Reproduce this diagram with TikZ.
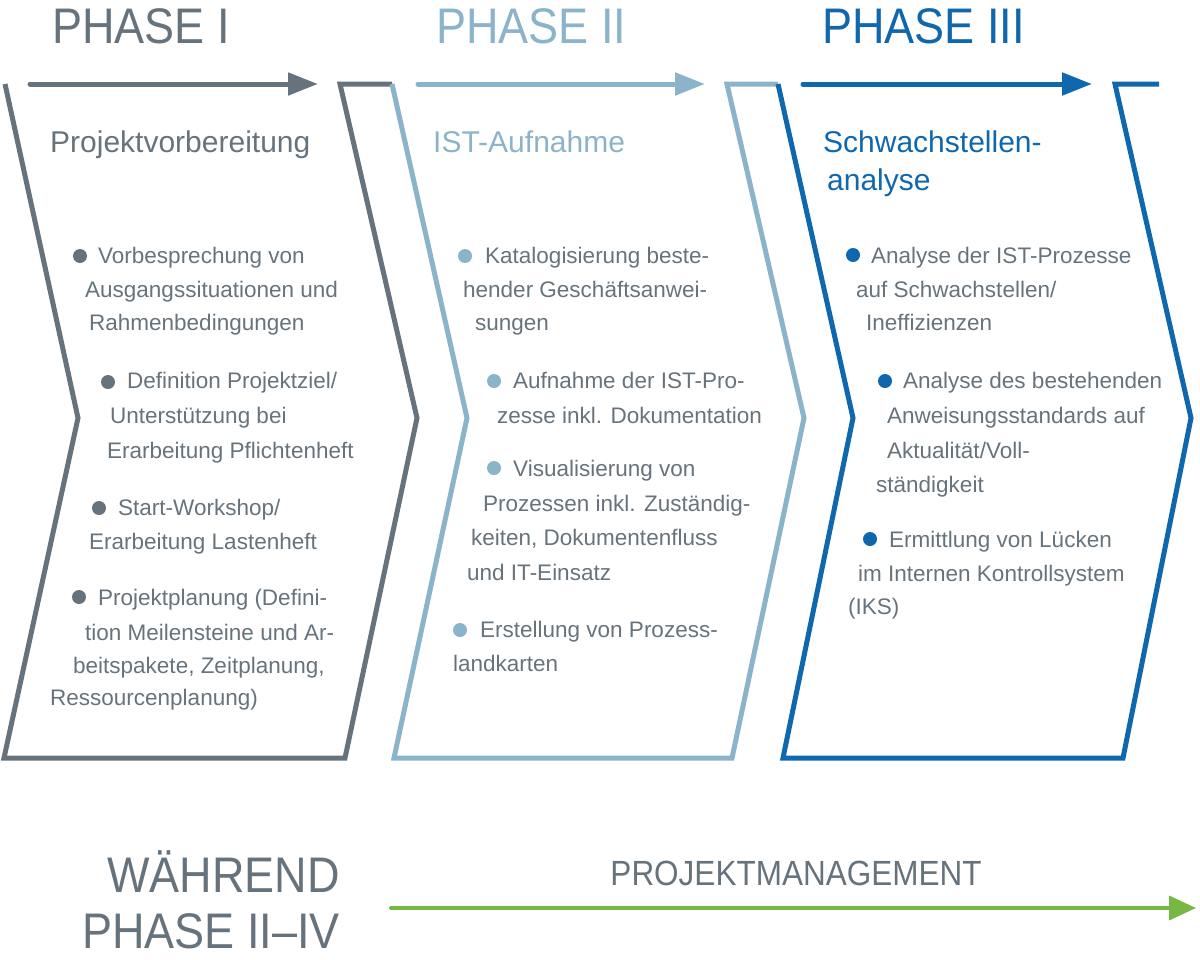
\documentclass[tikz,border=0pt]{standalone}
\usepackage{fontspec}
\setmainfont{Liberation Sans}
\newfontfamily\capsfont{Liberation Sans}[FakeStretch=0.9]
\usetikzlibrary{arrows.meta}

\definecolor{pgray}{HTML}{67737C}
\definecolor{plblue}{HTML}{8BB3C9}
\definecolor{pblue}{HTML}{0F67AE}
\definecolor{pgreen}{HTML}{76B843}

\begin{document}
\begin{tikzpicture}[
  x=1pt, y=-1pt,
  chev/.style={line width=5pt, line join=miter},
  flow/.style={line width=5pt, line cap=round, -{Triangle[length=30pt,width=22pt]}},
  txt/.style={anchor=base west, inner sep=0pt, text=pgray, font=\fontsize{22.5}{27}\selectfont},
  title/.style={anchor=base west, inner sep=0pt, font=\fontsize{30}{36}\selectfont},
  phase/.style={anchor=base west, inner sep=0pt, font=\capsfont\fontsize{50}{60}\selectfont},
  dot/.style={circle, inner sep=0pt, minimum size=14pt}
]
\useasboundingbox (0,0) rectangle (1200,959);

% chevrons
\foreach \c/\a/\n/\bl/\br/\t/\tr/\e in {pgray/5/78/4/345/417/340/392,
    plblue/392/467/394/732/804/727/778, pblue/778/853/783/1123/1191/1115/1159}
  \draw[chev, \c] (\e,84) -- (\tr,84) -- (\t,418) -- (\br,758) -- (\bl,758) -- (\n,418) -- (\a,84);

% phase arrows
\coordinate (a1s) at (30,84);  \coordinate (a1e) at (318,84);
\coordinate (a2s) at (418,84); \coordinate (a2e) at (705,84);
\coordinate (a3s) at (803,84); \coordinate (a3e) at (1092,84);
\draw[flow, pgray] (a1s) -- (a1e);
\draw[flow, plblue] (a2s) -- (a2e);
\draw[flow, pblue] (a3s) -- (a3e);

\node[phase, text=pgray] (ph1) at (52,43) {PHASE I};
\node[phase, text=plblue] (ph2) at (436,43) {PHASE II};
\node[phase, text=pblue] (ph3) at (822,43) {PHASE III};

\node[title, text=pgray] (t1) at (50,152) {Projektvorbereitung};
\node[title, text=plblue] (t2) at (433,152) {IST-Aufnahme};
\node[title, text=pblue] (t3) at (823,152) {Schwachstellen-};
\node[title, text=pblue] (t3b) at (827,190) {analyse};

% phase I
\foreach \x/\y [count=\i] in {80/256, 108/382, 99/508, 79/597}
  \node[dot, fill=pgray] (d1\i) at (\x,\y) {};
\foreach \x/\y/\s [count=\i] in {98/263/{Vorbesprechung von}, 85/297/{Ausgangssituationen und},
    89/330/{Rahmenbedingungen}, 127/388/{Definition Projektziel/}, 110/423/{Unterstützung bei},
    107/458/{Erarbeitung Pflichtenheft}, 118/515/{Start-Workshop/}, 89/549/{Erarbeitung Lastenheft},
    98/605/{Projektplanung (Defini-}, 85/640/{tion Meilensteine und Ar-},
    73/673/{beitspakete, Zeitplanung,}, 50/705/{Ressourcenplanung)}}
  \node[txt] (l1\i) at (\x,\y) {\s};

% phase II
\foreach \x/\y [count=\i] in {465/256, 494/381, 494/468, 460/630}
  \node[dot, fill=plblue] (d2\i) at (\x,\y) {};
\foreach \x/\y/\s [count=\i] in {485/263/{Katalogisierung beste-}, 463/297/{hender Geschäftsanwei-},
    475/330/{sungen}, 513/388/{Aufnahme der IST-Pro-}, 497/423/{zesse inkl. Dokumentation},
    513/476/{Visualisierung von}, 483/511/{Prozessen inkl. Zuständig-},
    471/545/{keiten, Dokumentenfluss}, 467/580/{und IT-Einsatz},
    480/637/{Erstellung von Prozess-}, 453/671/{landkarten}}
  \node[txt] (l2\i) at (\x,\y) {\s};

% phase III
\foreach \x/\y [count=\i] in {853/255, 885/381, 870/539}
  \node[dot, fill=pblue] (d3\i) at (\x,\y) {};
\foreach \x/\y/\s [count=\i] in {871/263/{Analyse der IST-Prozesse}, 856/297/{auf Schwachstellen/},
    866/330/{Ineffizienzen}, 903/388/{Analyse des bestehenden}, 887/423/{Anweisungsstandards auf},
    887/458/{Aktualität/Voll-}, 876/492/{ständigkeit}, 889/547/{Ermittlung von Lücken},
    858/581/{im Internen Kontrollsystem}, 848/614/{(IKS)}}
  \node[txt] (l3\i) at (\x,\y) {\s};

% project management
\node[phase, anchor=base east, text=pgray] (w1) at (340,892) {WÄHREND};
\node[phase, anchor=base east, text=pgray] (w2) at (340,948) {PHASE II–IV};
\node[anchor=base, inner sep=0pt, text=pgray, font=\capsfont\fontsize{35}{42}\selectfont] (pm) at (796,885) {PROJEKTMANAGEMENT};
\coordinate (g1) at (391,908); \coordinate (g2) at (1196,908);
\draw[line width=4pt, line cap=round, pgreen, -{Triangle[length=27pt,width=24pt]}] (g1) -- (g2);
\end{tikzpicture}
\end{document}
